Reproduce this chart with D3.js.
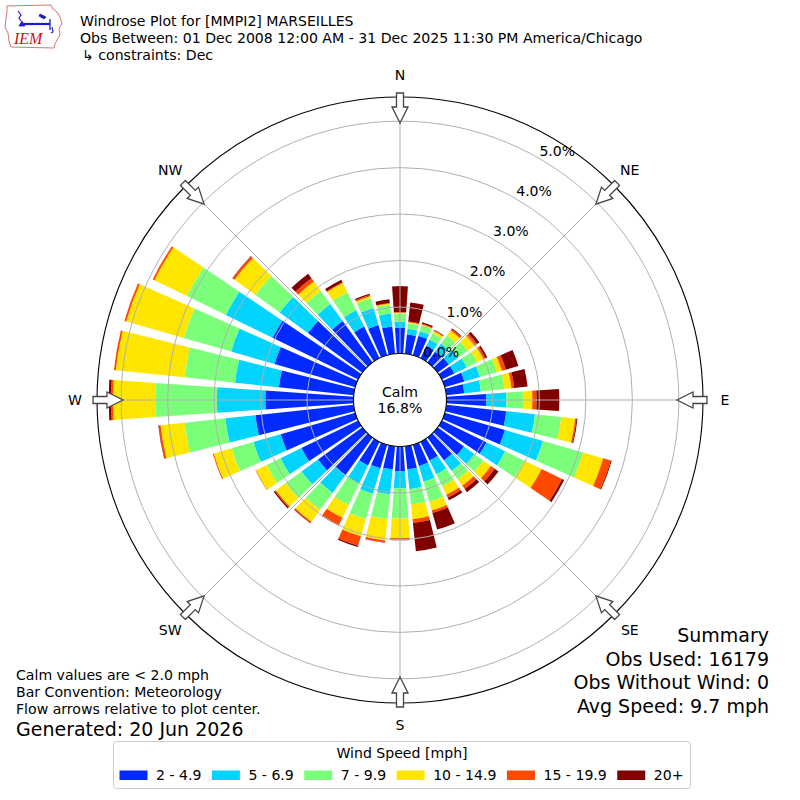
<!DOCTYPE html>
<html>
<head>
<meta charset="utf-8">
<script src="https://cdn.jsdelivr.net/npm/d3@7"></script>
<style>
  body { margin: 0; background: #fff; }
  svg text { font-family: "DejaVu Sans", sans-serif; fill: #000; }
</style>
</head>
<body>
<div id="chart"></div>
<script>
const FRAME_WIDTH = 800;
const FRAME_HEIGHT = 800;
const CENTER = { x: 400, y: 400 };
const R_CALM = 46.5;
const R_OUTER = 303;
const PCT_MAX = 5.52;
const BAR_WIDTH_DEG = 8;
const FS = "14.1px";

// data: percent of obs per direction (from) and speed bin
const DIRECTIONS = [0, 10, 20, 30, 40, 50, 60, 70, 80, 90, 100, 110, 120, 130, 140, 150, 160, 170,
                    180, 190, 200, 210, 220, 230, 240, 250, 260, 270, 280, 290, 300, 310, 320, 330, 340, 350];
const SPEED_BINS = ["2 - 4.9", "5 - 6.9", "7 - 9.9", "10 - 14.9", "15 - 19.9", "20+"];
const BIN_COLORS = ["#002aff", "#00d4ff", "#7bff7b", "#ffe600", "#ff4800", "#800000"];

const SPD_2_5 = [0.55, 0.42, 0.44, 0.30, 0.28, 0.30, 0.30, 0.44, 0.39, 0.86, 1.30, 1.35, 1.07, 0.70, 0.61, 0.45, 0.48, 0.50,
                 0.54, 0.50, 0.53, 0.57, 1.00, 1.18, 1.36, 1.67, 2.13, 1.90, 1.62, 1.81, 2.05, 1.45, 1.10, 0.76, 0.68, 0.59];
const SPD_5_7 = [0.14, 0.12, 0.10, 0.15, 0.22, 0.25, 0.30, 0.35, 0.36, 0.43, 0.62, 0.85, 0.45, 0.28, 0.28, 0.33, 0.35, 0.43,
                 0.36, 0.54, 0.57, 0.43, 0.47, 0.44, 0.50, 0.61, 0.65, 1.04, 0.95, 0.97, 1.12, 0.75, 0.45, 0.39, 0.38, 0.28];
const SPD_7_10 = [0.17, 0.12, 0.13, 0.15, 0.22, 0.25, 0.25, 0.38, 0.51, 0.36, 0.57, 0.90, 0.46, 0.24, 0.22, 0.29, 0.45, 0.33,
                  0.65, 0.54, 0.57, 0.52, 0.45, 0.42, 0.33, 0.49, 0.88, 1.33, 1.09, 1.06, 0.93, 0.65, 0.35, 0.43, 0.22, 0.19];
const SPD_10_15 = [0.02, 0.02, 0.02, 0.05, 0.13, 0.18, 0.15, 0.11, 0.15, 0.20, 0.30, 0.45, 0.41, 0.20, 0.17, 0.20, 0.19, 0.32,
                   0.42, 0.46, 0.38, 0.30, 0.32, 0.26, 0.26, 0.40, 0.52, 0.91, 1.49, 1.29, 0.78, 0.55, 0.25, 0.22, 0.04, 0.03];
const SPD_15_20 = [0.01, 0.02, 0.02, 0.02, 0.04, 0.07, 0.05, 0.09, 0.06, 0.09, 0.03, 0.17, 0.49, 0.10, 0.09, 0.07, 0.06, 0.08,
                   0.04, 0.04, 0.21, 0.18, 0.03, 0.03, 0.01, 0.02, 0.04, 0.04, 0.04, 0.04, 0.04, 0.05, 0.09, 0.02, 0.03, 0.01];
const SPD_20P = [0.56, 0.41, 0.03, 0.01, 0.02, 0.06, 0.04, 0.28, 0.29, 0.49, 0.02, 0.02, 0.05, 0.10, 0.08, 0.06, 0.37, 0.61,
                 0.01, 0.01, 0.03, 0.01, 0.01, 0.03, 0.00, 0.00, 0.01, 0.05, 0.00, 0.00, 0.00, 0.01, 0.12, 0.06, 0.03, 0.08];

const RING_TICKS = [0, 1, 2, 3, 4, 5];
const COMPASS = ["N", "NE", "E", "SE", "S", "SW", "W", "NW"];
const CALM_PCT = 16.8;

const TITLE_LINES = [
  "Windrose Plot for [MMPI2] MARSEILLES",
  "Obs Between: 01 Dec 2008 12:00 AM - 31 Dec 2025 11:30 PM America/Chicago",
  "\u21b3 constraints: Dec"
];
const NOTES = [
  "Calm values are < 2.0 mph",
  "Bar Convention: Meteorology",
  "Flow arrows relative to plot center."
];
const GENERATED = "Generated: 20 Jun 2026";
const SUMMARY = ["Summary", "Obs Used: 16179", "Obs Without Wind: 0", "Avg Speed: 9.7 mph"];
const LEGEND_TITLE = "Wind Speed [mph]";

let svg = d3.select("#chart").append("svg")
  .attr("width", FRAME_WIDTH)
  .attr("height", FRAME_HEIGHT);

let r = d3.scaleLinear().domain([0, PCT_MAX]).range([R_CALM, R_OUTER]);
let rad = deg => deg * Math.PI / 180;

let binArrays = [SPD_2_5, SPD_5_7, SPD_7_10, SPD_10_15, SPD_15_20, SPD_20P];
let rows = DIRECTIONS.map(function(dir, i) {
  let row = { dir: dir };
  SPEED_BINS.forEach(function(b, j) { row[b] = binArrays[j][i]; });
  return row;
});
let series = d3.stack().keys(SPEED_BINS)(rows);

let plot = svg.append("g")
  .attr("transform", "translate(" + CENTER.x + "," + CENTER.y + ")");

// bars
let arc = d3.arc()
  .innerRadius(d => r(d[0]))
  .outerRadius(d => r(d[1]))
  .startAngle(d => rad(d.data.dir - BAR_WIDTH_DEG / 2))
  .endAngle(d => rad(d.data.dir + BAR_WIDTH_DEG / 2));

plot.selectAll("g.bin")
  .data(series)
  .enter()
  .append("g")
  .attr("class", "bin")
  .attr("fill", (d, i) => BIN_COLORS[i])
  .selectAll("path")
  .data(d => d)
  .enter()
  .append("path")
  .attr("d", arc);

// grid on top of bars
let grid = plot.append("g")
  .attr("fill", "none")
  .attr("stroke", "#b0b0b0")
  .attr("stroke-width", 1);

grid.selectAll("circle")
  .data(RING_TICKS)
  .enter()
  .append("circle")
  .attr("r", d => r(d));

grid.selectAll("line")
  .data(COMPASS)
  .enter()
  .append("line")
  .attr("x1", 0)
  .attr("y1", 0)
  .attr("x2", (d, i) => R_OUTER * Math.sin(rad(i * 45)))
  .attr("y2", (d, i) => -R_OUTER * Math.cos(rad(i * 45)));

plot.append("circle")
  .attr("r", R_OUTER)
  .attr("fill", "none")
  .attr("stroke", "#000")
  .attr("stroke-width", 1.1);

// ring labels
plot.selectAll("text.rlabel")
  .data(RING_TICKS)
  .enter()
  .append("text")
  .attr("class", "rlabel")
  .attr("x", d => r(d) * Math.sin(rad(30)))
  .attr("y", d => -r(d) * Math.cos(rad(30)) - 3)
  .style("font-size", FS)
  .text(d => d.toFixed(1) + "%");

// flow arrows, pointing to center
let arrowPath = "M-3.5,-307L3.5,-307L3.5,-293L8,-293L0,-277L-8,-293L-3.5,-293Z";
plot.selectAll("path.arrow")
  .data(COMPASS)
  .enter()
  .append("path")
  .attr("class", "arrow")
  .attr("d", arrowPath)
  .attr("transform", (d, i) => "rotate(" + (i * 45) + ")")
  .attr("fill", "#fff")
  .attr("stroke", "#444")
  .attr("stroke-width", 1.3);

// compass labels
plot.selectAll("text.compass")
  .data(COMPASS)
  .enter()
  .append("text")
  .attr("class", "compass")
  .attr("x", (d, i) => 325 * Math.sin(rad(i * 45)))
  .attr("y", (d, i) => -325 * Math.cos(rad(i * 45)) + 5)
  .attr("text-anchor", "middle")
  .style("font-size", FS)
  .text(d => d);

// calm circle
plot.append("circle")
  .attr("r", R_CALM)
  .attr("fill", "#fff")
  .attr("stroke", "#000")
  .attr("stroke-width", 1.1);

plot.append("text")
  .attr("y", -3.3)
  .attr("text-anchor", "middle")
  .style("font-size", FS)
  .text("Calm");

plot.append("text")
  .attr("y", 13.3)
  .attr("text-anchor", "middle")
  .style("font-size", FS)
  .text(CALM_PCT.toFixed(1) + "%");

// titles
svg.selectAll("text.title")
  .data(TITLE_LINES)
  .enter()
  .append("text")
  .attr("class", "title")
  .attr("x", (d, i) => i === 2 ? 82 : 80)
  .attr("y", (d, i) => 25.5 + i * 17)
  .style("font-size", FS)
  .text(d => d);

// notes lower left
svg.selectAll("text.note")
  .data(NOTES)
  .enter()
  .append("text")
  .attr("class", "note")
  .attr("x", 16)
  .attr("y", (d, i) => 680 + i * 17)
  .style("font-size", FS)
  .text(d => d);

svg.append("text")
  .attr("x", 16)
  .attr("y", 735.5)
  .style("font-size", "19px")
  .text(GENERATED);

// summary lower right
svg.selectAll("text.summary")
  .data(SUMMARY)
  .enter()
  .append("text")
  .attr("class", "summary")
  .attr("x", 769)
  .attr("y", (d, i) => 642.3 + i * 23.5)
  .attr("text-anchor", "end")
  .style("font-size", "19px")
  .text(d => d);

// legend
let legend = svg.append("g");
legend.append("rect")
  .attr("x", 113.5)
  .attr("y", 741.5)
  .attr("width", 577)
  .attr("height", 47)
  .attr("rx", 3)
  .attr("fill", "#fff")
  .attr("stroke", "#cccccc")
  .attr("stroke-width", 1);

legend.append("text")
  .attr("x", 402)
  .attr("y", 758)
  .attr("text-anchor", "middle")
  .style("font-size", FS)
  .text(LEGEND_TITLE);

let items = legend.selectAll("g.item")
  .data(SPEED_BINS)
  .enter()
  .append("g")
  .attr("class", "item");

items.append("rect")
  .attr("y", 770.5)
  .attr("width", 28)
  .attr("height", 9.5)
  .attr("fill", (d, i) => BIN_COLORS[i]);

items.append("text")
  .attr("x", 36.5)
  .attr("y", 779.5)
  .style("font-size", FS)
  .text(d => d);

let widths = [];
items.each(function() {
  widths.push(36.5 + d3.select(this).select("text").node().getComputedTextLength());
});
let gap = (564 - d3.sum(widths)) / (widths.length - 1);
let xPos = 119.5;
items.attr("transform", function(d, i) {
  let t = "translate(" + xPos + ",0)";
  xPos += widths[i] + gap;
  return t;
});

// IEM logo
let logo = svg.append("g");
logo.append("path")
  .attr("d", "M7,6L51,5L53,9L57,12L60,17L62,23L59,29L60,35L57,40L55,44L54,48L11,47L9,41L8,33L5,27L6,19L7,12Z")
  .attr("fill", "none")
  .attr("stroke", "#e07070")
  .attr("stroke-width", 1);
logo.append("text")
  .attr("x", 14)
  .attr("y", 43.5)
  .style("font-family", "'Liberation Serif', serif")
  .style("font-style", "italic")
  .style("font-size", "16px")
  .style("fill", "#cc1111")
  .text("IEM");
let blue = logo.append("g").attr("stroke", "#1d1dcc").attr("fill", "#1d1dcc");
blue.append("line").attr("x1", 24).attr("y1", 24).attr("x2", 50).attr("y2", 24).attr("stroke-width", 2.2);
blue.append("path").attr("d", "M19,26L22,21L25,26Z").attr("stroke-width", 0.8);
blue.append("path").attr("d", "M18,11L21,15L19,18L21,21").attr("fill", "none").attr("stroke-width", 1.2);
blue.append("path").attr("d", "M40,14L46,17L44,19L39,16Z").attr("stroke-width", 0.8);
blue.append("line").attr("x1", 50).attr("y1", 19).attr("x2", 50).attr("y2", 30).attr("stroke-width", 1.3);
blue.append("path").attr("d", "M52,27L53,32L51,33").attr("fill", "none").attr("stroke-width", 1.2);
</script>
</body>
</html>
